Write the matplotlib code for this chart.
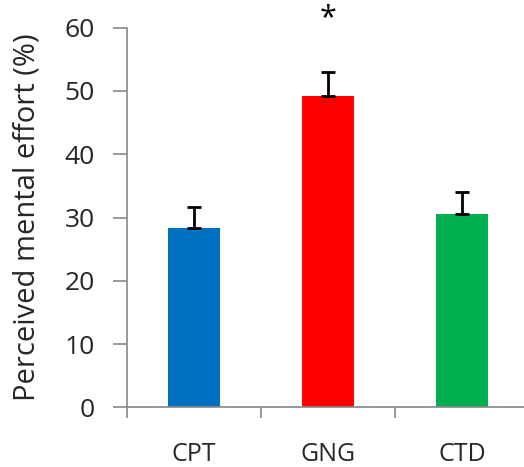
import matplotlib
matplotlib.use("Agg")
import matplotlib.pyplot as plt

categories = ["CPT", "GNG", "CTD"]
values = [28.4, 49.2, 30.5]
errors = [3.3, 3.8, 3.5]
colors = ["#0070C0", "#FF0000", "#00B050"]
yticks = [0, 10, 20, 30, 40, 50, 60]

plt.rcParams['font.family'] = ['Open Sans', 'DejaVu Sans']

fig = plt.figure(figsize=(5.24, 4.67), dpi=100)
ax = fig.add_axes([127/524, 1-407.3/467, 402/524, (407.3-27.7)/467])

x = [i + 0.5 for i in range(len(categories))]
ax.bar(x, values, width=0.386, color=colors, zorder=2)
ax.errorbar(x, values, yerr=[[0]*3, errors], fmt='none', ecolor='black',
            elinewidth=2, capsize=5.3, capthick=2, zorder=3)

ax.set_xlim(0, 3)
ax.set_ylim(0, 60)
ax.set_yticks(yticks)
ax.set_xticks([0, 1, 2, 3])
ax.set_xticklabels([])
ax.set_xticks(x, minor=True)
ax.set_xticklabels(categories, minor=True)

gray = "#888888"
txt = "#262626"
for s in ["top", "right"]:
    ax.spines[s].set_visible(False)
for s in ["left", "bottom"]:
    ax.spines[s].set_color(gray)
    ax.spines[s].set_linewidth(1.2)

ax.tick_params(axis='y', direction='out', length=10, width=1.2, color=gray,
               labelsize=19, pad=13, labelcolor=txt)
ax.tick_params(axis='x', which='major', direction='out', length=8, width=1.2, color=gray)
ax.tick_params(axis='x', which='minor', length=0, labelsize=18, pad=25, labelcolor=txt)

ax.set_ylabel("Perceived mental effort (%)", fontsize=21, color=txt)
ax.yaxis.set_label_coords(-0.212, 0.5)

ax.text(x[1], 61.5, "*", ha='center', va='center', fontsize=22, clip_on=False)

fig.savefig("out.png", dpi=100)
